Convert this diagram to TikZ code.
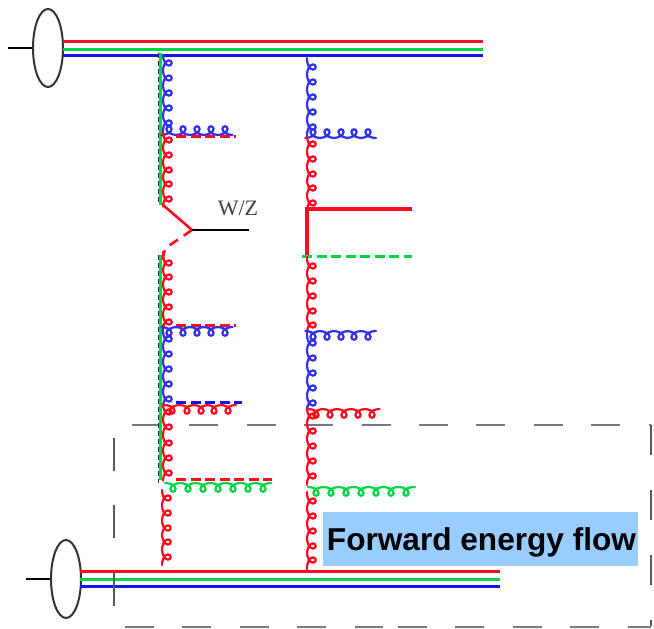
\documentclass[tikz,border=0pt]{standalone}
\usepackage{fontspec}
\setmainfont{Liberation Sans}
\newfontfamily\wzfont{Liberation Serif}
\usetikzlibrary{shapes.geometric}
\definecolor{qred}{RGB}{255,10,30}
\definecolor{qgreen}{RGB}{0,215,70}
\definecolor{qblue}{RGB}{20,20,240}
\definecolor{gblue}{RGB}{50,50,235}
\definecolor{boxgrey}{RGB}{120,120,120}
\definecolor{labelblue}{RGB}{153,204,255}
\def\gfirstof#1,#2\relax{#1}
% \gluon{x}{y}{rotation}{yscale}{colour}{list of loop offsets}{length}
\newcommand{\gluon}[7]{%
  \begin{scope}[shift={(#1,#2)},rotate=#3,yscale=#4]
    \edef\gfirst{\gfirstof#6,\relax}
    \foreach \lp in {#6}{
      \draw[#5,gluonline] (\lp-7.5,0) .. controls (\lp-4,0) and (\lp+2.6,2) .. (\lp+2.6,6)
        .. controls (\lp+2.6,9.6) and (\lp-2.6,9.6) .. (\lp-2.6,6)
        .. controls (\lp-2.6,2) and (\lp+4,0) .. (\lp+7.5,0);
      \xdef\glast{\lp}
    }
    \draw[#5,gluonline] (0,0) -- (\gfirst-7.5,0);
    \draw[#5,gluonline] (\glast+7.5,0) -- (#7,0);
  \end{scope}}
\tikzset{
  x=1pt,y=-1pt,
  gluonline/.style={line width=2.2pt,line cap=round},
  quark/.style={line width=3pt},
  stub/.style={line width=2.8pt},
  colourdash/.style={line width=3pt,dash pattern=on 10pt off 4.5pt},
  blackdash/.style={black!80,line width=1pt,dash pattern=on 5pt off 3pt},
  boxdash/.style={boxgrey,line width=2.1pt,dash pattern=on 29pt off 28.4pt},
  sidedash/.style={black!65,line width=1.5pt},
  proton/.style={draw=black!80,line width=2pt,ellipse,minimum width=30pt,minimum height=78pt,inner sep=0pt},
}
\begin{document}
\begin{tikzpicture}
\useasboundingbox (0,0) rectangle (654,629);
% label
\node[fill=labelblue,minimum width=315pt,minimum height=54pt,inner sep=0pt,anchor=center] (flow) at (480.5,539) {};
\node[anchor=base,inner sep=0pt] (flowtext) at (481.5,550)
  {\fontsize{31.6pt}{34pt}\selectfont\bfseries Forward energy flow};
% dashed box
\coordinate (boxTL) at (132,425);
\coordinate (boxTR) at (651,425);
\coordinate (boxBR) at (651,626);
\coordinate (boxBL) at (125,627);
\coordinate (boxBM) at (398,627);
\draw[boxdash] (boxTL) -- (boxTR);
\draw[boxdash] (boxBL) -- (383,627);
\draw[boxdash] (boxBM) -- (boxBR |- boxBM);
\draw[sidedash,dash pattern=on 33pt off 34pt] (114,438) -- (114,606);
\draw[sidedash,dash pattern=on 30pt off 35pt] (boxTR) -- (boxBR);
% top proton
\node[proton] (p1) at (48,48) {};
\coordinate (p1in) at (8,48);
\draw[black,stub] (p1in) -- (p1);
\draw[qred,quark] (63,41.5) -- (483,41.5);
\draw[qgreen,quark] (63,49) -- (483,49);
\draw[qblue,quark] (63,55) -- (483,55);
% bottom proton
\node[proton] (p2) at (66,579) {};
\coordinate (p2in) at (26,579);
\draw[black,stub] (p2in) -- (p2);
\draw[qred,quark] (80,571.5) -- (500,571.5);
\draw[qgreen,quark] (80,579) -- (500,579);
\draw[qblue,quark] (80,586) -- (500,586);
\draw[sidedash] (114,572) -- (114,606);
% left ladder: colour lines
\draw[blackdash] (158.5,53) -- (158.5,205);
\draw[qgreen,line width=2.4pt] (160.5,53) -- (160.5,205);
\draw[blackdash] (158.5,255) -- (158.5,483);
\draw[qgreen,line width=2.4pt] (160.5,255) -- (160.5,480);
% left ladder: gluons
\gluon{163}{55}{-90}{-1}{gblue}{8,23,38,53,68}{80}
\gluon{163}{135}{0}{-1}{gblue}{6,20,34,48,62}{69}
\draw[qred,colourdash] (176,136.5) -- (236,136.5);
\gluon{163}{136}{-90}{-1}{qred}{4,19,34,48,63}{69}
% W/Z vertex
\coordinate (wz) at (192,230);
\coordinate (wzend) at (249,230);
\draw[qred,line width=2.6pt] (163,205) -- (wz);
\draw[black,stub] (wz) -- (wzend);
\node[font=\wzfont,text=black!75,inner sep=0pt] (wzlabel) at (238,208) {\fontsize{22pt}{24pt}\selectfont W/Z};
\draw[qred,line width=2.6pt,dash pattern=on 10pt off 7pt] (wz) -- (170,245) .. controls (164,249) and (163,253) .. (163,262);
\gluon{163}{252}{-90}{-1}{qred}{11,25,40,55,70}{73}
\draw[qred,colourdash] (176,325) -- (236,325);
\gluon{163}{327}{0}{1}{gblue}{6,20,34,48,62}{69}
\gluon{163}{327}{-90}{-1}{gblue}{12,27,42,57,72}{78}
\draw[qblue,colourdash] (176,402) -- (242,402);
\gluon{163}{405}{0}{1}{qred}{9,24,38,51,65}{73}
\gluon{163}{405}{-90}{-1}{qred}{7,22,38,53,68}{75}
\draw[qred,colourdash] (176,479) -- (272,479);
\gluon{165}{483}{0}{1}{qgreen}{8,23,38,53,68,83,98}{106}
\gluon{162}{490}{-90}{-1}{qred}{8,23,38,52,67}{75}
% right ladder
\gluon{307}{58}{-90}{-1}{gblue}{9,24,39,54,69}{80}
\gluon{307}{138}{0}{-1}{gblue}{6,20,34,47,61}{69}
\gluon{307}{138}{-90}{-1}{qred}{6,21,36,50,65}{71}
\coordinate (rv) at (307,209);
\coordinate (rvend) at (412,209);
\draw[qred,line width=3.2pt] (rvend) -- (rv) -- (307,257);
\draw[qgreen,colourdash] (302,256.5) -- (412,256.5);
\gluon{307}{257}{-90}{-1}{qred}{9,24,39,54,68}{74}
\gluon{307}{331}{0}{1}{gblue}{6,20,34,47,61}{69}
\gluon{307}{331}{-90}{-1}{gblue}{12,27,42,57,72}{76}
\gluon{307}{409}{0}{1}{qred}{9,23,37,51,65}{72}
\gluon{307}{410}{-90}{-1}{qred}{6,21,36,51,66}{75}
\gluon{308}{487}{0}{1}{qgreen}{8,23,38,53,68,83,98}{107}
\gluon{307}{492}{-90}{-1}{qred}{9,24,39,54,68}{79}
\end{tikzpicture}
\end{document}
